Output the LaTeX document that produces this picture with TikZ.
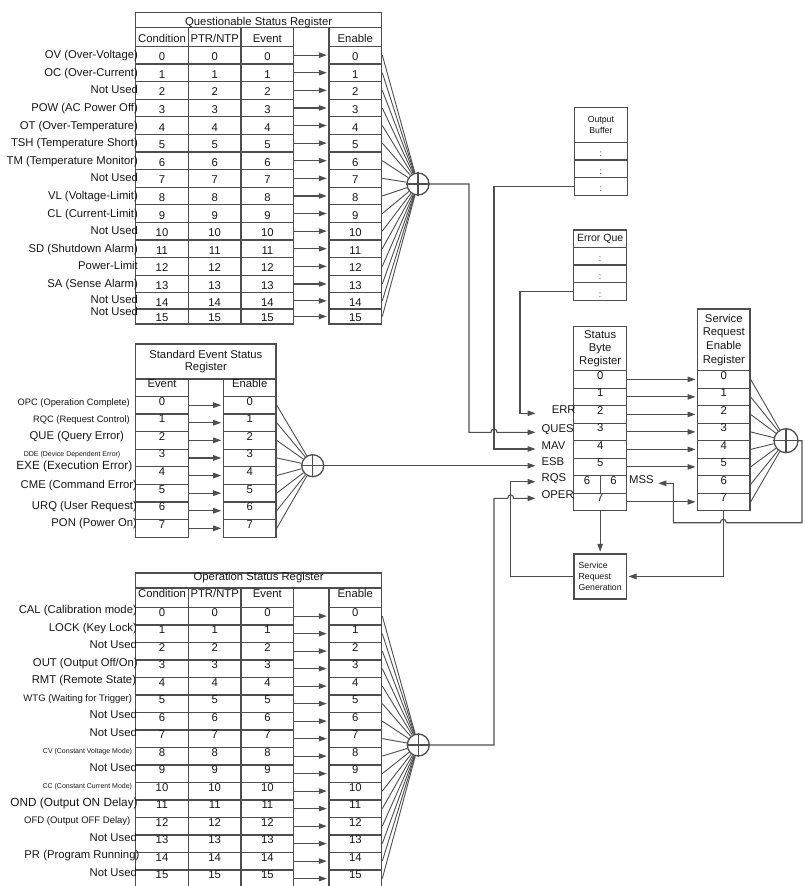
\documentclass[tikz,border=0pt]{standalone}
\usepackage{fontspec}
\setmainfont{Liberation Sans}
\usepackage{tikz}
\usetikzlibrary{arrows.meta}
\definecolor{regline}{RGB}{78,78,78}
\definecolor{regtext}{RGB}{22,22,22}
\newcommand\fsz[1]{\fontsize{#1}{#1}\selectfont}

\begin{document}
\begin{tikzpicture}[x=1pt, y=-1pt, line width=1.3pt, color=regline,
  every node/.style={text=regtext, font=\fontsize{11.3}{13.3}\selectfont},
  cell/.style={draw, rectangle, anchor=north west, inner sep=0pt, minimum width=52.7pt},
  qcell/.style={cell, text height=11pt, text depth=0pt},
  ocell/.style={cell, text height=5pt, text depth=5pt},
  tcell/.style={cell, align=center},
  lab/.style={anchor=mid east, inner sep=0pt},
  slab/.style={anchor=base west, inner xsep=4pt, inner ysep=0pt},
  gate/.style={draw, circle, inner sep=0pt, minimum size=22pt},
  arr/.style={-{Triangle[length=8pt,width=5.5pt]}, shorten >=1.5pt, line width=1.1pt},
  fan/.style={line width=0.9pt}
]
  \useasboundingbox (0,0) rectangle (804,886);

  % Questionable Status Register
  \node[gate] (q-or) at (418,184) {};
  \node[qcell, minimum width=246pt, minimum height=15pt] (q-title) at (135,12) {Questionable Status Register};
  \node[qcell, minimum height=18.7pt] (q-hco) at (135,27) {Condition};
  \node[qcell, minimum height=18.7pt] (q-hpt) at (187.7,27) {PTR/NTP};
  \node[qcell, minimum height=18.7pt] (q-hev) at (240.4,27) {Event};
  \node[qcell, minimum height=18.7pt] (q-hen) at (328.3,27) {Enable};
  \foreach \i in {0,...,15}{
    \pgfmathsetmacro\yt{ifthenelse(\i<15,45.7+17.6*\i,308.3)}
    \pgfmathsetmacro\hh{ifthenelse(\i<14,17.6,ifthenelse(\i==14,16.2,15))}
    \foreach \cx/\nm in {135/co,187.7/pt,240.4/ev,328.3/en}
      \node[qcell, minimum height=\hh pt] (q-\nm\i) at (\cx,\yt) {\i};
    \draw[arr] (q-ev\i.east) -- (q-en\i.west);
    \draw[fan] (q-en\i.east) -- (q-or);
  }
  \foreach \lbl [count=\i from 0] in {OV (Over-Voltage), OC (Over-Current), Not Used,
      POW (AC Power Off), OT (Over-Temperature), TSH (Temperature Short),
      TM (Temperature Monitor), Not Used, VL (Voltage-Limit), CL (Current-Limit),
      Not Used, SD (Shutdown Alarm), Power-Limit, SA (Sense Alarm), Not Used, Not Used}{
    \pgfmathsetmacro\yl{ifthenelse(\i<14,56+17.6*\i,ifthenelse(\i==14,300.5,313))}
    \node[lab] (q-lab\i) at (138.5,\yl) {\lbl};
  }

  % Standard Event Status Register
  \node[gate] (e-or) at (312.7,465.7) {};
  \node[tcell, minimum width=140.4pt, minimum height=35pt, font=\fontsize{11.3}{11.8}\selectfont] (e-title) at (135,343.3) {Standard Event Status\\Register};
  \node[ocell, minimum height=17.4pt] (e-hev) at (135,378.3) {Event};
  \node[ocell, minimum height=17.4pt] (e-hen) at (222.7,378.3) {Enable};
  \foreach \i in {0,...,7}{
    \node[ocell, minimum height=17.6pt] (e-ev\i) at (135,395.7+17.6*\i) {\i};
    \node[ocell, minimum height=17.6pt] (e-en\i) at (222.7,395.7+17.6*\i) {\i};
    \draw[arr] (e-ev\i.east) -- (e-en\i.west);
    \draw[fan] (e-en\i.east) -- (e-or);
  }
  \node[lab, font=\fsz{9.3}] (e-lab0) at (130.5,402.7) {OPC (Operation Complete)};
  \node[lab, font=\fsz{9.3}] (e-lab1) at (130.5,420) {RQC (Request Control)};
  \node[lab] (e-lab2) at (124.5,437.3) {QUE (Query Error)};
  \node[lab, font=\fsz{7}] (e-lab3) at (121,454.3) {DDE (Device Dependent Error)};
  \node[lab, font=\fsz{11.8}] (e-lab4) at (133,467.3) {EXE (Execution Error)};
  \node[lab] (e-lab5) at (137.5,486) {CME (Command Error)};
  \node[lab] (e-lab6) at (137.5,506.7) {URQ (User Request)};
  \node[lab] (e-lab7) at (137.5,524) {PON (Power On)};

  % Operation Status Register
  \node[gate] (o-or) at (418.3,745) {};
  \node[ocell, minimum width=246pt, minimum height=15pt] (o-title) at (135,572.3) {Operation Status Register};
  \node[ocell, minimum height=19.4pt] (o-hco) at (135,587.3) {Condition};
  \node[ocell, minimum height=19.4pt] (o-hpt) at (187.7,587.3) {PTR/NTP};
  \node[ocell, minimum height=19.4pt] (o-hev) at (240.4,587.3) {Event};
  \node[ocell, minimum height=19.4pt] (o-hen) at (328.3,587.3) {Enable};
  \foreach \i in {0,...,15}{
    \foreach \cx/\nm in {135/co,187.7/pt,240.4/ev,328.3/en}
      \node[ocell, minimum height=17.5pt] (o-\nm\i) at (\cx,606.7+17.5*\i) {\i};
    \draw[arr] (o-ev\i.east) -- (o-en\i.west);
    \draw[fan] (o-en\i.east) -- (o-or);
  }
  \foreach \lbl/\xe/\fs [count=\i from 0] in {CAL (Calibration mode)/137.5/11.3,
      LOCK (Key Lock)/137.5/11.3, Not Used/137.5/11.3, {OUT (Output Off/On)}/138.3/11.3,
      RMT (Remote State)/136.7/11.3, WTG (Waiting for Trigger)/132.7/9.5,
      Not Used/137.5/11.3, Not Used/137.5/11.3, CV (Constant Voltage Mode)/132.7/7,
      Not Used/137.5/11.3, CC (Constant Current Mode)/132.7/7,
      OND (Output ON Delay)/138.3/11.8, OFD (Output OFF Delay)/131/9.5,
      Not Used/137.5/11.3, PR (Program Running)/140/11.3, Not Used/137.5/11.3}
    \node[lab, font=\fsz{\fs}] (o-lab\i) at (\xe,611+17.5*\i) {\lbl};

  % output buffer and error queue
  \node[tcell, minimum width=52.5pt, minimum height=35pt, font=\fontsize{8.7}{11}\selectfont] (ob-title) at (574,106.7) {Output\\Buffer};
  \node[tcell, minimum width=53pt, minimum height=17.4pt, font=\fsz{10.5}] (eq-title) at (573,229.3) {Error Que};
  \foreach \i in {1,2,3}{
    \node[qcell, minimum width=52.5pt, minimum height=17.6pt, font=\fsz{8.7}] (ob-r\i) at (574,124.1+17.6*\i) {:};
    \node[qcell, minimum width=53pt, minimum height=17.7pt, font=\fsz{8.7}] (eq-r\i) at (573,229+17.7*\i) {:};
  }

  % Status Byte Register
  \node[tcell, minimum width=53pt, minimum height=44pt] (s-title) at (573,326) {Status\\Byte\\Register};
  \foreach \i in {0,1,2,3,4,5,7}
    \node[ocell, minimum width=53pt, minimum height=17.5pt] (s-r\i) at (573,370+17.5*\i) {\i};
  \node[ocell, minimum width=26.5pt, minimum height=17.5pt] (s-r6a) at (573,475) {6};
  \node[ocell, minimum width=26.5pt, minimum height=17.5pt] (s-r6b) at (599.5,475) {6};
  \node[slab, text width=34pt, align=right] (s-err) at (537,413.3) {ERR};
  \node[slab] (s-ques) at (537,432.3) {QUES};
  \node[slab] (s-mav) at (537,449) {MAV};
  \node[slab] (s-esb) at (537,465.7) {ESB};
  \node[slab] (s-rqs) at (537,481.7) {RQS};
  \node[slab] (s-oper) at (537,498.3) {OPER};
  \node[anchor=base west, inner xsep=2.5pt, inner ysep=0pt] (mss) at (626,483.3) {MSS};

  % Service Request Enable Register
  \node[gate, minimum size=24pt] (r-or) at (786,440.7) {};
  \node[tcell, minimum width=52.3pt, minimum height=61.7pt, font=\fontsize{11.3}{13.7}\selectfont] (r-title) at (697,308.3) {Service\\Request\\Enable\\Register};
  \foreach \i in {0,...,7}{
    \node[ocell, minimum width=52.3pt, minimum height=17.5pt] (r-r\i) at (697,370+17.5*\i) {\i};
    \draw[fan] (r-r\i.east) -- (r-or);
  }
  \foreach \i in {0,1,2,3,4,5,7}
    \draw[arr] (s-r\i.east) -- (r-r\i.west);

  % service request generation
  \node[cell, minimum width=52.4pt, minimum height=45pt, align=left, font=\fontsize{8.7}{11}\selectfont] (srg) at (573.3,553.3) {Service\\Request\\Generation};

  % gate crosses
  \foreach \g in {q,e,o,r}
    \draw[line width=1.1pt] (\g-or.north) -- (\g-or.south) (\g-or.west) -- (\g-or.east);

  % summary lines into the status byte
  \draw[arr] (q-or.east) -| (469,432.3) -- (491,432.3) .. controls +(0,-4.5) and +(0,-4.5) .. (497,432.3) -- (s-ques.base west);
  \draw[arr] (ob-r3.west) -| (494,449) -- (s-mav.base west);
  \draw[arr] (eq-r3.west) -| (520,413.3) -- (s-err.base west);
  \draw[arr] (e-or.east) -- (s-esb.base west);
  \draw[arr] (srg.west) -| (510.7,481.7) -- (s-rqs.base west);
  \draw[arr] (o-or.east) -| (494,498.3) -- (507.7,498.3) .. controls +(0,-4.5) and +(0,-4.5) .. (513.7,498.3) -- (s-oper.base west);

  % request logic
  \draw[arr] (r-or.east) -| (802,522.7) -- (726.3,522.7) .. controls +(0,-4.5) and +(0,-4.5) .. (720.3,522.7) -| (673.3,483.3) -- (mss.base east);
  \draw[arr] (r-r7.south) |- (srg.east);
  \draw[arr] (s-r7.south) -- (srg.north);
\end{tikzpicture}
\end{document}
